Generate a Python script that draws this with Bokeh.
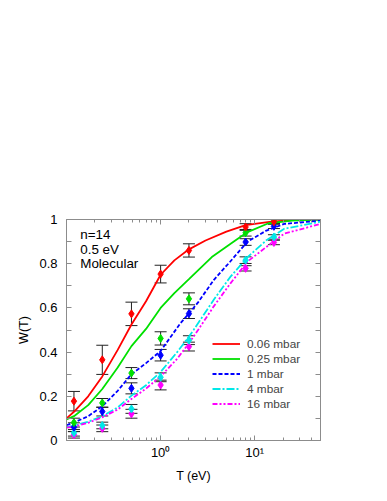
from bokeh.plotting import figure
from bokeh.models import (ColumnDataSource, Whisker, TeeHead, FixedTicker, LogAxis,
                          LinearAxis, Label)
from bokeh.embed import file_html
from bokeh.resources import INLINE

# ---------------- data ----------------
series_names = ["0.06 mbar", "0.25 mbar", "1 mbar", "4 mbar", "16 mbar"]
series_colors = ["#ff0000", "#00e000", "#0000ff", "#00e8e8", "#ff00ff"]
series_dash = ["solid", "solid", "4 2", "8 2 2 2", "5 2 2 2 2 2"]

# measured points
T_pts = [0.12, 0.24, 0.49, 1.0, 2.0, 8.0, 16.0]
W_006 = [0.178, 0.365, 0.573, 0.753, 0.860, 0.966, 0.990]
W_025 = [0.081, 0.170, 0.305, 0.462, 0.641, 0.940, 0.992]
W_1 = [0.060, 0.131, 0.236, 0.386, 0.574, 0.898, 0.969]
W_4 = [0.035, 0.068, 0.143, 0.286, 0.454, 0.816, 0.921]
W_16 = [0.026, 0.055, 0.121, 0.251, 0.425, 0.779, 0.896]
err_006 = [0.044, 0.066, 0.053, 0.040, 0.030, 0.015, 0.010]
err_025 = [0.020, 0.020, 0.025, 0.030, 0.027, 0.015, 0.010]
err_1 = [0.020, 0.020, 0.025, 0.026, 0.022, 0.015, 0.010]
err_4 = [0.015, 0.015, 0.020, 0.020, 0.020, 0.015, 0.010]
err_16 = [0.015, 0.015, 0.020, 0.022, 0.020, 0.012, 0.010]

# model curves
Tc_006 = [0.1, 0.12, 0.17, 0.24, 0.35, 0.49, 0.7, 1.0, 1.4, 2.0, 3.0, 5.0, 8.0, 15, 25, 50]
Wc_006 = [0.10, 0.13, 0.20, 0.29, 0.41, 0.525, 0.63, 0.75, 0.815, 0.865, 0.905, 0.945, 0.975, 0.99, 0.997, 1.0]
Tc_025 = [0.1, 0.12, 0.17, 0.24, 0.35, 0.49, 0.7, 1.0, 1.4, 2.0, 3.5, 6, 8.4, 14, 25, 50]
Wc_025 = [0.095, 0.11, 0.16, 0.233, 0.33, 0.427, 0.505, 0.60, 0.667, 0.73, 0.83, 0.90, 0.943, 0.983, 0.995, 1.0]
Tc_1 = [0.1, 0.12, 0.17, 0.24, 0.35, 0.49, 0.7, 1.0, 1.62, 2.0, 2.5, 3.67, 5.5, 8.4, 13.3, 20.6, 50]
Wc_1 = [0.069, 0.081, 0.11, 0.155, 0.225, 0.30, 0.35, 0.405, 0.53, 0.575, 0.625, 0.726, 0.81, 0.90, 0.95, 0.98, 0.995]
Tc_4 = [0.1, 0.12, 0.17, 0.24, 0.35, 0.49, 0.7, 1.0, 1.5, 2.0, 2.24, 3.67, 5.5, 8.4, 13.3, 20.6, 50]
Wc_4 = [0.061, 0.067, 0.085, 0.11, 0.15, 0.203, 0.25, 0.31, 0.40, 0.47, 0.50, 0.637, 0.74, 0.83, 0.906, 0.958, 0.99]
Tc_16 = [0.1, 0.12, 0.17, 0.24, 0.35, 0.49, 0.7, 1.0, 1.5, 2.0, 2.5, 3.67, 5.5, 8.4, 13.3, 20.6, 50]
Wc_16 = [0.058, 0.063, 0.08, 0.105, 0.14, 0.188, 0.235, 0.29, 0.37, 0.44, 0.50, 0.607, 0.71, 0.81, 0.876, 0.936, 0.98]

x_major = [1, 10]
x_minor = [0.2, 0.3, 0.4, 0.5, 0.6, 0.7, 0.8, 0.9, 2, 3, 4, 5, 6, 7, 8, 9, 20, 30, 40, 50]
x_labels = {1: "10\u2070", 10: "10\u00b9"}
y_major = [0, 0.2, 0.4, 0.6, 0.8, 1.0]
y_minor = [0.1, 0.3, 0.5, 0.7, 0.9]
y_labels = {0: "0", 0.2: "0.2", 0.4: "0.4", 0.6: "0.6", 0.8: "0.8", 1: "1"}

note_lines = ["n=14", "0.5 eV", "Molecular"]
note_y = [0.93, 0.865, 0.80]
note_x = 0.14

FONT = "Liberation Sans"
FS = "12.5px"
TICK_FS = "13px"
NOTE_FS = "13.4px"
LEG_FS = "11.8px"
GRAY = "#8c8c8c"

p = figure(width=371, height=485, x_axis_type="log", x_range=(0.1, 50), y_range=(0, 1),
           output_backend="svg", toolbar_location=None,
           min_border_left=66, min_border_right=51, min_border_top=219, min_border_bottom=43)
p.background_fill_color = "white"
p.border_fill_color = "white"
p.outline_line_color = GRAY
p.xgrid.visible = False
p.ygrid.visible = False

# axes styling
def style_axis(ax, ticker, labels=None, show_labels=True):
    ax.ticker = ticker
    ax.axis_line_color = GRAY
    ax.major_tick_line_color = GRAY
    ax.minor_tick_line_color = GRAY
    ax.major_tick_in = 5
    ax.major_tick_out = 0
    ax.minor_tick_in = 3
    ax.minor_tick_out = 0
    if labels is not None:
        ax.major_label_overrides = labels
    ax.major_label_text_font = FONT
    ax.major_label_text_font_size = TICK_FS
    ax.major_label_text_color = "black"
    if not show_labels:
        ax.major_label_text_alpha = 0
        ax.major_label_text_font_size = "1px"

xt = FixedTicker(ticks=x_major, minor_ticks=x_minor)
yt = FixedTicker(ticks=y_major, minor_ticks=y_minor)
style_axis(p.xaxis[0], xt, x_labels)
style_axis(p.yaxis[0], yt, y_labels)
p.yaxis[0].minor_tick_in = 5
p.xaxis[0].major_label_standoff = 4
p.yaxis[0].major_label_standoff = 9
p.xaxis[0].axis_label = "T (eV)"
p.yaxis[0].axis_label = "W(T)"
for ax in (p.xaxis[0], p.yaxis[0]):
    ax.axis_label_text_font = FONT
    ax.axis_label_text_font_size = FS
    ax.axis_label_text_font_style = "normal"
    ax.axis_label_text_color = "black"
p.xaxis[0].axis_label_standoff = 6
p.yaxis[0].axis_label_standoff = 5

top = LogAxis()
style_axis(top, FixedTicker(ticks=x_major, minor_ticks=x_minor), show_labels=False)
p.add_layout(top, "above")
right = LinearAxis()
style_axis(right, FixedTicker(ticks=y_major, minor_ticks=y_minor), show_labels=False)
right.minor_tick_in = 5
p.add_layout(right, "right")

curves = [(Tc_006, Wc_006), (Tc_025, Wc_025), (Tc_1, Wc_1), (Tc_4, Wc_4), (Tc_16, Wc_16)]
points = [(W_006, err_006), (W_025, err_025), (W_1, err_1), (W_4, err_4), (W_16, err_16)]

for (tc, wc), name, col, dash in zip(curves, series_names, series_colors, series_dash):
    p.line(tc, wc, line_color=col, line_width=1.8, line_dash=dash, legend_label=name)

# error bars then points (reverse so red ends on top)
for (w, e), col in reversed(list(zip(points, series_colors))):
    src = ColumnDataSource(dict(x=T_pts, y=w,
                                upper=[a + b for a, b in zip(w, e)],
                                lower=[a - b for a, b in zip(w, e)]))
    wh = Whisker(base="x", upper="upper", lower="lower", source=src,
                 line_color="#222222", line_width=1,
                 upper_head=TeeHead(size=12, line_color="#222222", line_width=1),
                 lower_head=TeeHead(size=12, line_color="#222222", line_width=1))
    p.add_layout(wh)
for (w, e), col in reversed(list(zip(points, series_colors))):
    p.scatter(T_pts, w, marker="diamond", size=8, fill_color=col, line_color=col)

for txt, yy in zip(note_lines, note_y):
    p.add_layout(Label(x=note_x, y=yy, text=txt, text_font=FONT, text_font_size=NOTE_FS,
                       text_baseline="middle", text_align="left", text_color="black"))

lg = p.legend[0]
lg.location = (146, 29)
lg.margin = 0
lg.padding = 0
lg.spacing = 0
lg.border_line_alpha = 0
lg.background_fill_alpha = 0
lg.glyph_width = 28
lg.glyph_height = 15
lg.label_height = 15
lg.label_standoff = 7
lg.label_text_font = FONT
lg.label_text_font_size = LEG_FS
lg.label_text_baseline = "middle"

open("out.html", "w").write(file_html(p, INLINE))
